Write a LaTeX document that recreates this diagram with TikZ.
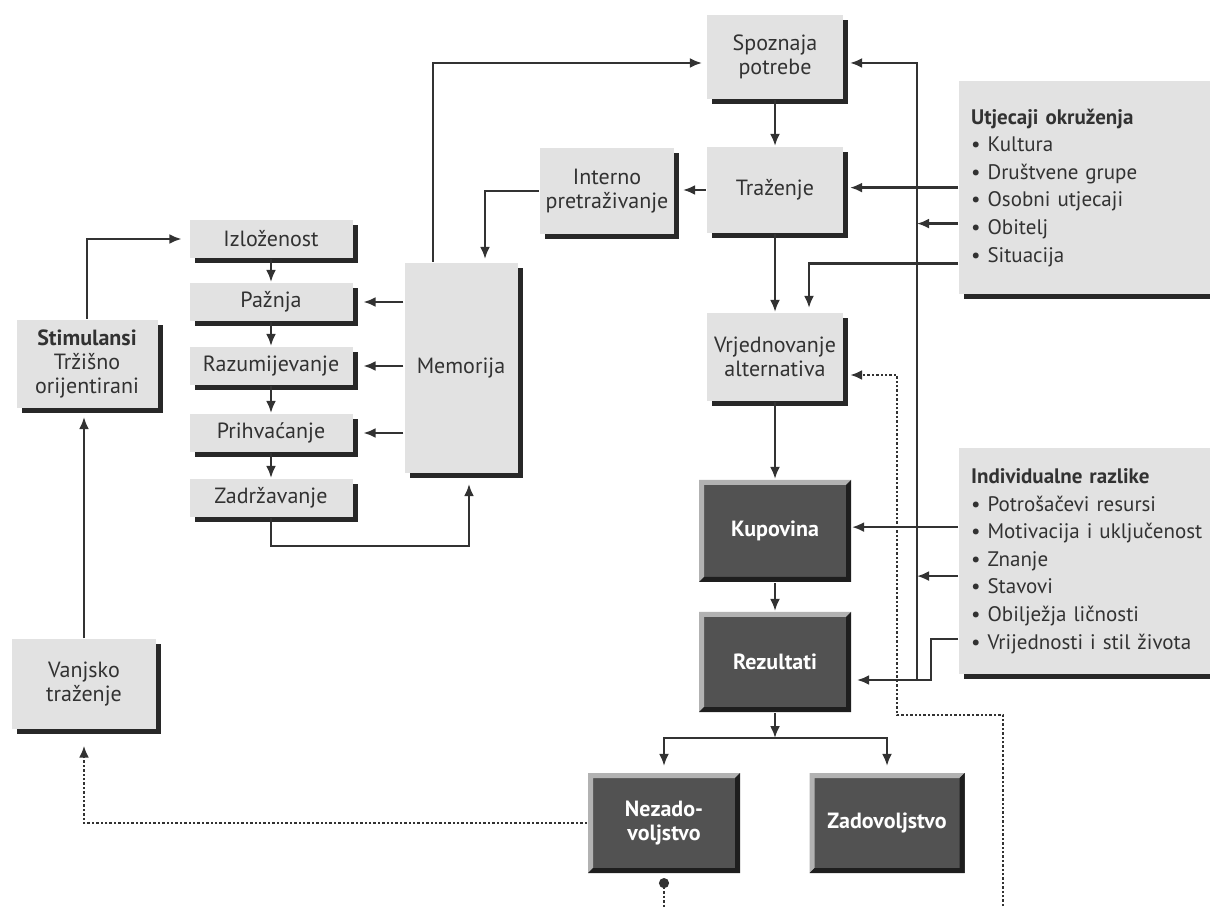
\documentclass[tikz,border=0pt]{standalone}
\usepackage{fontspec}
\setmainfont{PT Sans}
\usepackage{tikz}
\usetikzlibrary{arrows.meta,shadows}

\definecolor{boxgray}{RGB}{226,226,226}
\definecolor{shadowdark}{RGB}{40,40,40}
\definecolor{boxdark}{RGB}{82,82,82}
\definecolor{bevlight}{RGB}{178,178,178}
\definecolor{bevdark}{RGB}{30,30,30}
\definecolor{linecol}{RGB}{50,50,50}

\tikzset{
  lbox/.style={fill=boxgray, align=center, inner sep=1pt,
    drop shadow={shadow xshift=2.5pt, shadow yshift=-2.5pt, fill=shadowdark, opacity=1}},
  stepbox/.style={lbox, minimum width=81.5pt, minimum height=19pt},
  infobox/.style={lbox, anchor=north west, align=left, inner xsep=6pt, text width=140pt,
    font=\fontsize{10.5}{13.8}\selectfont},
  dbox/.style={fill=boxdark, text=white, font=\fontsize{11}{12}\selectfont\bfseries, align=center, inner sep=1pt,
    minimum width=76pt, minimum height=50pt,
    path picture={
      \fill[bevlight] (path picture bounding box.south west) -- (path picture bounding box.north west)
        -- (path picture bounding box.north east) -- ([xshift=-2.5pt,yshift=-2.5pt]path picture bounding box.north east)
        -- ([xshift=2.5pt,yshift=-2.5pt]path picture bounding box.north west)
        -- ([xshift=2.5pt,yshift=2.5pt]path picture bounding box.south west) -- cycle;
      \fill[bevdark] (path picture bounding box.south west) -- (path picture bounding box.south east)
        -- (path picture bounding box.north east) -- ([xshift=-2.5pt,yshift=-2.5pt]path picture bounding box.north east)
        -- ([xshift=-2.5pt,yshift=2.5pt]path picture bounding box.south east)
        -- ([xshift=2.5pt,yshift=2.5pt]path picture bounding box.south west) -- cycle;
    }},
  dotline/.style={densely dotted, line width=1.2pt}
}

\begin{document}
\begin{tikzpicture}[x=0.5pt, y=-0.5pt, >={Latex[length=6pt,width=5pt]}, line width=1.1pt,
    color=linecol, font=\fontsize{11}{12}\selectfont]
  \useasboundingbox (0,0) rectangle (1210,908);

  % decision chain
  \node[lbox, minimum width=68pt, minimum height=42pt] (spoz) at (775,57) {Spoznaja\\potrebe};
  \node[lbox, minimum width=68pt, minimum height=43pt] (traz) at (775,190) {Traženje};
  \node[lbox, minimum width=67pt, minimum height=43pt] (interno) at (607,191) {Interno\\pretraživanje};
  \node[lbox, minimum width=68pt, minimum height=44pt] (vrij) at (775,357) {Vrjednovanje\\alternativa};
  \node[dbox, minimum height=51pt] (kup) at (775,531) {Kupovina};
  \node[dbox] (rez) at (775,662) {Rezultati};
  \node[dbox] (nezad) at (664,823) {Nezado-\\voljstvo};
  \node[dbox, minimum width=77.5pt] (zadov) at (887,823) {Zadovoljstvo};

  % memory and processing
  \node[lbox, minimum width=56.5pt, minimum height=105pt] (mem) at (461,368) {Memorija};
  \node[stepbox] (izl) at (271,239) {Izloženost};
  \node[stepbox] (paz) at (271,302) {Pažnja};
  \node[stepbox] (raz) at (271,366) {Razumijevanje};
  \node[stepbox] (pri) at (271,433) {Prihvaćanje};
  \node[stepbox] (zadr) at (271,498) {Zadržavanje};
  \node[lbox, minimum width=70.5pt, minimum height=44pt] (stim) at (87,364) {\textbf{Stimulansi}\\Tržišno\\orijentirani};
  \node[lbox, minimum width=72pt, minimum height=44.5pt] (vanj) at (84,684) {Vanjsko\\traženje};

  % influences
  \node[infobox, minimum height=106.5pt] (utj) at (958,80) {\textbf{Utjecaji okruženja}\\• Kultura\\• Društvene grupe\\• Osobni utjecaji\\• Obitelj\\• Situacija};
  \node[infobox, minimum height=113pt] (indiv) at (958,447) {\textbf{Individualne razlike}\\• Potrošačevi resursi\\• Motivacija i uključenost\\• Znanje\\• Stavovi\\• Obilježja ličnosti\\• Vrijednosti i stil života};

  \coordinate (junc) at (917,680);
  \coordinate (split) at (775,738);
  \coordinate (dotbot) at (1003,915);
  \coordinate (dotturn) at (897,715);

  \draw[->, shorten >=2pt] ([xshift=-14pt]mem.north) |- ([yshift=-3pt]spoz.west);
  \draw[->] (spoz) -- (traz);
  \draw[->, shorten >=4pt] (traz.west) -- (traz.west -| interno.east);
  \draw[->, shorten >=1.5pt] (interno.west) -| ([xshift=12pt]mem.north);
  \draw[->] (traz) -- (vrij);
  \draw[->] (vrij) -- (kup);
  \draw[->] (kup) -- (rez);
  \draw[->] (rez) -- (split);
  \draw[->, shorten >=3pt] (split) -| (nezad);
  \draw[->, shorten >=3pt] (split) -| (zadov);

  \foreach \s in {paz,raz,pri}
    \draw[->, shorten >=5pt] (mem.west |- \s) -- (\s.east);
  \foreach \a/\b in {izl/paz,paz/raz,raz/pri,pri/zadr}
    \draw[->] (\a) -- (\b);
  \draw[->, shorten >=5pt] (zadr.south) -- ++(0,28) -| ([xshift=4pt]mem.south);
  \draw[->, shorten >=4pt] (vanj.north) -- (vanj.north |- stim.south);
  \draw[->, shorten >=3.5pt] (stim.north) |- (izl.west);

  \draw[->, shorten >=3pt] (junc) |- ([yshift=-3pt]spoz.east);
  \draw[->, shorten >=3pt] (utj.west) -- (utj.west -| traz.east);
  \draw[->] ([yshift=-18pt]utj.west) -- ([yshift=-18pt]utj.west -| junc);
  \draw[->, shorten >=2pt] ([yshift=-38pt]utj.west) -| ([xshift=17pt]vrij.north);
  \draw[->] ([yshift=17pt]indiv.west) -- ([yshift=17pt]indiv.west -| kup.east);
  \draw[->] ([yshift=-7.5pt]indiv.west) -- ([yshift=-7.5pt]indiv.west -| junc);
  \draw[->, shorten >=2.5pt] ([yshift=-39pt]indiv.west) -| ([xshift=7pt]junc) -- (junc -| rez.east);

  \draw[dotline, ->, shorten >=3pt] (dotbot) |- (dotturn) |- ([yshift=-9pt]vrij.east);
  \draw[dotline, {Circle[length=5pt]}-] ([yshift=-2pt]nezad.south) -- (nezad.south |- dotbot);
  \draw[dotline, ->, shorten >=8pt] (nezad.west) -| (vanj.south);
\end{tikzpicture}
\end{document}
